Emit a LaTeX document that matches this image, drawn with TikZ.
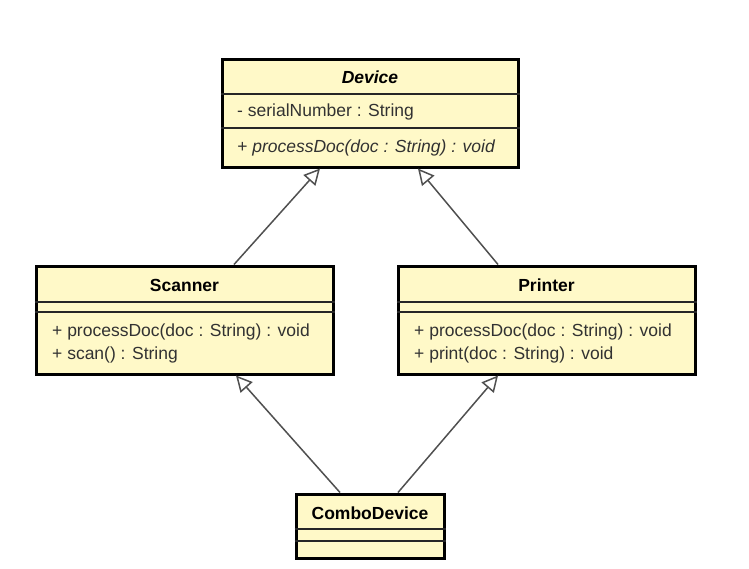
\documentclass[tikz,border=0pt]{standalone}
\usepackage{fontspec}
\setmainfont{Liberation Sans}
\usetikzlibrary{arrows.meta}
\definecolor{classfill}{RGB}{255,249,200}
\definecolor{membertext}{RGB}{50,50,50}
\definecolor{linkgray}{RGB}{80,80,80}
\begin{document}
\begin{tikzpicture}[x=1pt,y=-1pt,
  classbox/.style={draw=black,line width=3pt,fill=classfill,inner sep=0pt},
  divider/.style={draw=black!85,line width=1.4pt},
  classtitle/.style={font=\fontsize{17.5}{20}\selectfont\bfseries,inner sep=0pt},
  member/.style={font=\fontsize{17.5}{20}\selectfont,text=membertext,anchor=west,inner sep=0pt},
  generalization/.style={draw=linkgray,line width=1.5pt,-{Triangle[open,length=16pt,width=16pt,fill=white]}}]
\useasboundingbox (0,0) rectangle (749,568);
% class boxes
\node[classbox,minimum width=296pt,minimum height=108pt] (device) at (370,113) {};
\node[classbox,minimum width=297pt,minimum height=108pt] (scanner) at (184.5,320) {};
\node[classbox,minimum width=297pt,minimum height=108pt] (printer) at (546.5,320) {};
\node[classbox,minimum width=148pt,minimum height=64pt] (combo) at (370,526) {};
% dividers
\draw[divider] (device.west |- 0,94) -- (device.east |- 0,94);
\draw[divider] (device.west |- 0,128) -- (device.east |- 0,128);
\draw[divider] (scanner.west |- 0,302) -- (scanner.east |- 0,302);
\draw[divider] (scanner.west |- 0,312) -- (scanner.east |- 0,312);
\draw[divider] (printer.west |- 0,302) -- (printer.east |- 0,302);
\draw[divider] (printer.west |- 0,312) -- (printer.east |- 0,312);
\draw[divider] (combo.west |- 0,529) -- (combo.east |- 0,529);
\draw[divider] (combo.west |- 0,541) -- (combo.east |- 0,541);
% titles
\node[classtitle,font=\fontsize{17.5}{20}\selectfont\bfseries\itshape] (devicetitle) at (370,77) {Device};
\node[classtitle] (scannertitle) at (184.5,285) {Scanner};
\node[classtitle] (printertitle) at (546.5,285) {Printer};
\node[classtitle] (combotitle) at (370,513) {ComboDevice};
% members
\node[member] (devattr) at (237,112) {- serialNumber : String};
\node[member,font=\fontsize{17.5}{20}\selectfont\itshape] (devop) at (237,148) {+ processDoc(doc : String) : void};
\node[member] (scanop1) at (52,332) {+ processDoc(doc : String) : void};
\node[member] (scanop2) at (52,355) {+ scan() : String};
\node[member] (prnop1) at (414,332) {+ processDoc(doc : String) : void};
\node[member] (prnop2) at (414,355) {+ print(doc : String) : void};
% generalizations
\draw[generalization] (234,0 |- scanner.north) -- (320,0 |- device.south);
\draw[generalization] (498,0 |- printer.north) -- (418,0 |- device.south);
\draw[generalization] (340,0 |- combo.north) -- (236,0 |- scanner.south);
\draw[generalization] (398,0 |- combo.north) -- (498,0 |- printer.south);
\end{tikzpicture}
\end{document}
